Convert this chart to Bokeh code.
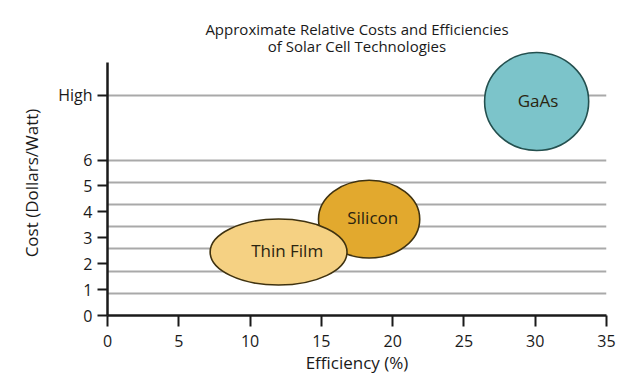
from bokeh.plotting import figure
from bokeh.models import Range1d, FixedTicker, Title
from bokeh.core.properties import value
from bokeh.embed import file_html
from bokeh.resources import INLINE

# ---- data ----
technologies = ["Silicon", "Thin Film", "GaAs"]
efficiency = [18.35, 12.0, 30.1]        # ellipse centre, %
cost = [3.72, 2.45, 8.26]               # ellipse centre, cost units
eff_spread = [7.1, 9.6, 7.3]            # ellipse width, %
cost_spread = [3.0, 2.55, 3.78]         # ellipse height, cost units
label_efficiency = [18.6, 12.6, 30.2]   # where each name sits
label_cost = [3.78, 2.5, 8.3]
fills = ["#E2A92E", "#F5D183", "#7CC4CA"]
outlines = ["#3F3210", "#3F3210", "#24504F"]

x_ticks = [0, 5, 10, 15, 20, 25, 30, 35]
y_tick_values = [0, 1, 2, 3, 4, 5, 6, 8.5]
y_tick_labels = ["0", "1", "2", "3", "4", "5", "6", "High"]
y_axis_top = 9.77

FONT = "Open Sans"
TXT = "#1a1a1a"

p = figure(width=628, height=376, output_backend="svg", toolbar_location=None,
           x_range=Range1d(0, 35), y_range=Range1d(0, 10.23),
           min_border_left=107, min_border_right=22, min_border_top=50,
           min_border_bottom=50)
p.title = None
p.outline_line_color = None
p.background_fill_color = "white"
p.border_fill_color = "white"

t2 = Title(text="of Solar Cell Technologies", align="center", text_font=FONT,
           text_font_size="15px", text_font_style="normal", text_color=TXT,
           offset=-34, standoff=-11)
t1 = Title(text="Approximate Relative Costs and Efficiencies", align="center",
           text_font=FONT, text_font_size="15px", text_font_style="normal",
           text_color=TXT, offset=-34, standoff=1)
p.add_layout(t2, "above")
p.add_layout(t1, "above")

# grid
p.xgrid.visible = False
grid_ticks = [i * 6 / 7 for i in range(1, 8)] + [y_tick_values[-1]]
p.ygrid.ticker = FixedTicker(ticks=grid_ticks)
p.ygrid.grid_line_color = "#A9A9A9"
p.ygrid.grid_line_width = 2

# axes
p.xaxis.ticker = FixedTicker(ticks=x_ticks)
p.yaxis.ticker = FixedTicker(ticks=y_tick_values)
p.yaxis.bounds = (0, y_axis_top)
p.yaxis.major_label_overrides = {v: l for v, l in zip(y_tick_values, y_tick_labels)}
for ax in (p.xaxis[0], p.yaxis[0]):
    ax.axis_line_color = "#1a1a1a"
    ax.axis_line_width = 2.5
    ax.major_tick_line_color = "#1a1a1a"
    ax.major_tick_line_width = 2
    ax.major_tick_in = 0
    ax.major_tick_out = 10
    ax.minor_tick_line_color = None
    ax.major_label_text_font = FONT
    ax.major_label_text_font_size = "16px"
    ax.major_label_text_color = TXT
    ax.major_label_standoff = 5
    ax.axis_label_text_font = FONT
    ax.axis_label_text_font_size = "17px"
    ax.axis_label_text_font_style = "normal"
    ax.axis_label_text_color = TXT
p.xaxis.major_tick_out = 11
p.xaxis.major_label_standoff = 8
p.xaxis.axis_label = "Efficiency (%)"
p.yaxis.axis_label = "Cost (Dollars/Watt)"
p.xaxis.axis_label_standoff = 1
p.yaxis.axis_label_standoff = 12

p.ellipse(x=efficiency, y=cost, width=eff_spread, height=cost_spread,
          fill_color=fills, line_color=outlines, line_width=1.6)
p.text(x=label_efficiency, y=label_cost, text=technologies, text_align="center",
       text_baseline="middle", text_font=value(FONT), text_font_size="17px",
       text_color="#2a2410")

open("out.html", "w").write(file_html(p, INLINE))
